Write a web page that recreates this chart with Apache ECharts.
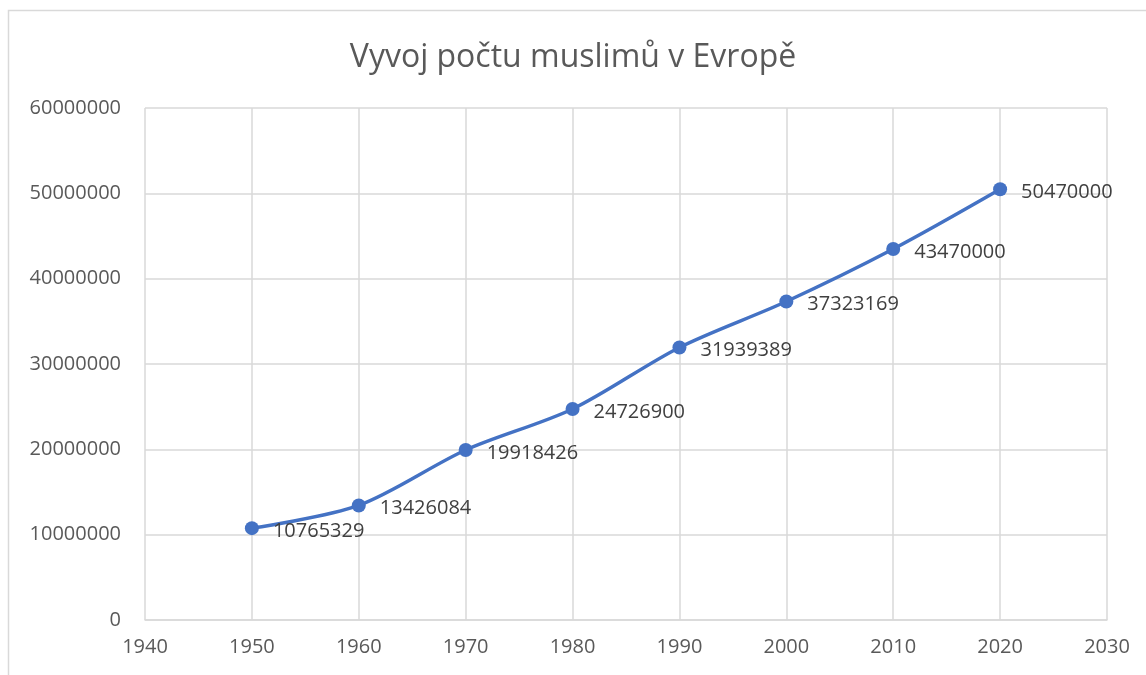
<!DOCTYPE html>
<html>

<head>
    <meta charset="utf-8" />
    <script src="https://cdn.jsdelivr.net/npm/echarts@6/dist/echarts.min.js"></script>
</head>

<body style="margin:0">
    <style>
        html,
        body {
            width: 1146px;
            height: 675px;
            background: #fff;
        }

        #main {
            width: 1146px;
            height: 675px;
        }
    </style>
    <div id="main"></div>

    <script type="text/javascript">
        // data
        const years = [1950, 1960, 1970, 1980, 1990, 2000, 2010, 2020];
        const muslims = [10765329, 13426084, 19918426, 24726900, 31939389, 37323169, 43470000, 50470000];

        const TXT = '#595959';
        const GRID = '#d9d9d9';
        const FONT = '"Open Sans", "Noto Sans", sans-serif';

        var chart = echarts.init(document.getElementById('main'), null, { renderer: 'canvas' });
        chart.setOption({
            animation: false,
            textStyle: { fontFamily: FONT },
            title: {
                text: 'Vyvoj počtu muslimů v Evropě',
                left: 'center',
                top: 37,
                textStyle: {
                    color: TXT,
                    fontSize: 32,
                    fontWeight: 'normal',
                    fontFamily: FONT,
                },
            },
            graphic: [
                {
                    // chart area border (cropped on right/bottom)
                    type: 'polyline',
                    shape: { points: [[8.5, 680], [8.5, 10.5], [1150, 10.5]] },
                    style: { stroke: GRID, lineWidth: 1.5, fill: null },
                    silent: true,
                }
            ],
            grid: {
                left: 145,
                right: 39,
                top: 108,
                bottom: 55,
            },
            xAxis: {
                type: 'value',
                min: 1940,
                max: 2030,
                interval: 10,
                axisLine: { show: true, lineStyle: { color: GRID, width: 1.5 } },
                axisTick: { show: false },
                splitLine: { show: true, lineStyle: { color: GRID, width: 1.5 } },
                axisLabel: {
                    color: TXT,
                    fontSize: 20,
                    margin: 17,
                    fontFamily: FONT,
                    formatter: (v) => String(v),
                },
            },
            yAxis: {
                type: 'value',
                min: 0,
                max: 60000000,
                interval: 10000000,
                axisLine: { show: false },
                axisTick: { show: false },
                splitLine: { show: true, lineStyle: { color: GRID, width: 1.5 } },
                axisLabel: {
                    color: TXT,
                    fontSize: 20,
                    margin: 24,
                    fontFamily: FONT,
                    formatter: (v) => String(v),
                },
            },
            series: [
                {
                    type: 'line',
                    data: years.map((y, i) => [y, muslims[i]]),
                    smooth: 0.3,
                    symbol: 'circle',
                    symbolSize: 14,
                    lineStyle: { color: '#4472C4', width: 3.5 },
                    itemStyle: { color: '#4472C4' },
                    label: {
                        show: true,
                        position: 'right',
                        distance: 14,
                        color: '#404040',
                        fontSize: 20,
                        fontFamily: FONT,
                        offset: [0, 3],
                        formatter: (p) => String(p.value[1]),
                    },
                },
            ],
        });
    </script>
</body>

</html>
